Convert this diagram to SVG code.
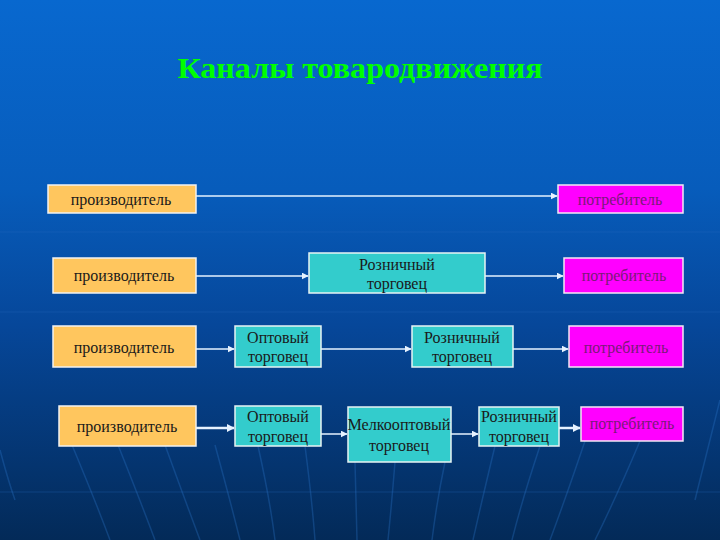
<svg xmlns="http://www.w3.org/2000/svg" width="720" height="540" viewBox="0 0 720 540">
<defs>
<linearGradient id="bg" x1="0" y1="0" x2="0" y2="1">
<stop offset="0" stop-color="#0868cf"/>
<stop offset="0.35" stop-color="#075cbb"/>
<stop offset="0.6" stop-color="#06479a"/>
<stop offset="1" stop-color="#032a58"/>
</linearGradient>
<marker id="ah" viewBox="0 0 10 10" refX="9" refY="5" markerWidth="7" markerHeight="7" markerUnits="userSpaceOnUse" orient="auto">
<path d="M0,0 L10,5 L0,10 z" fill="#e6f2ff"/>
</marker>
<marker id="ahb" viewBox="0 0 10 10" refX="9" refY="5" markerWidth="8" markerHeight="8" markerUnits="userSpaceOnUse" orient="auto">
<path d="M0,0 L10,5 L0,10 z" fill="#e6f2ff"/>
</marker>
</defs>
<style>
.prod{fill:#ffc65e;stroke:#f2f2f2;stroke-width:1.5}
.trade{fill:#33cccc;stroke:#e8f4f4;stroke-width:1.5}
.cons{fill:#ff00ff;stroke:#f4e8f4;stroke-width:1.5}
.t{font-family:"Liberation Serif","DejaVu Serif",serif;font-size:16px;fill:#1a1a1a;text-anchor:middle}
.tc{font-family:"Liberation Serif","DejaVu Serif",serif;font-size:16px;fill:#7a1a78;text-anchor:middle}
.ln{stroke:#e6f2ff;stroke-width:1.5;fill:none;marker-end:url(#ah)}
.lnb{stroke:#e6f2ff;stroke-width:2.5;fill:none;marker-end:url(#ahb)}
.deco{stroke:#2f7ad0;stroke-width:1.5;fill:none;opacity:0.3}
.hz{stroke:#2a6cc0;stroke-width:1;opacity:0.3}
</style>
<rect width="720" height="540" fill="url(#bg)"/>
<g id="decor">
<line class="hz" x1="0" y1="232" x2="720" y2="232"/>
<line class="hz" x1="0" y1="312" x2="720" y2="312"/>
<line class="hz" x1="0" y1="492" x2="720" y2="492"/>
<path class="deco" d="M72,445 Q95,500 110,540"/>
<path class="deco" d="M118,445 Q140,500 155,540"/>
<path class="deco" d="M165,445 Q185,500 200,540"/>
<path class="deco" d="M215,445 Q230,500 240,540"/>
<path class="deco" d="M258,446 Q270,500 275,540"/>
<path class="deco" d="M305,446 Q312,500 315,540"/>
<path class="deco" d="M355,462 Q356,500 357,540"/>
<path class="deco" d="M395,462 Q392,500 388,540"/>
<path class="deco" d="M445,462 Q437,500 432,540"/>
<path class="deco" d="M495,446 Q482,500 473,540"/>
<path class="deco" d="M540,446 Q522,500 512,540"/>
<path class="deco" d="M585,441 Q565,500 550,540"/>
<path class="deco" d="M640,441 Q615,500 595,540"/>
<path class="deco" d="M720,400 Q705,460 695,500"/>
<path class="deco" d="M0,450 Q8,480 15,500"/>
</g>
<text x="360" y="78" font-family="Liberation Serif,serif" font-size="30" font-weight="bold" fill="#00ff00" text-anchor="middle" textLength="365" lengthAdjust="spacingAndGlyphs">Каналы товародвижения</text>
<g id="connectors">
<line class="ln" x1="196" y1="196" x2="557" y2="196"/>
<line class="ln" x1="196" y1="276" x2="308" y2="276"/>
<line class="ln" x1="485" y1="276" x2="563" y2="276"/>
<line class="ln" x1="196" y1="349" x2="234" y2="349"/>
<line class="ln" x1="321" y1="349" x2="411" y2="349"/>
<line class="ln" x1="513" y1="349" x2="568" y2="349"/>
<line class="lnb" x1="196" y1="428" x2="234" y2="428"/>
<line class="ln" x1="321" y1="434" x2="347" y2="434"/>
<line class="ln" x1="451" y1="434" x2="478" y2="434"/>
<line class="lnb" x1="559" y1="428" x2="580" y2="428"/>
</g>
<g id="prod1"><rect class="prod" x="48" y="185" width="148" height="28"/><text class="t" x="121" y="205">производитель</text></g>
<g id="cons1"><rect class="cons" x="558" y="185" width="125" height="28"/><text class="tc" x="620" y="205">потребитель</text></g>
<g id="prod2"><rect class="prod" x="53" y="258" width="143" height="35"/><text class="t" x="124" y="281">производитель</text></g>
<g id="retail2"><rect class="trade" x="309" y="253" width="176" height="40"/><text class="t" x="397" y="270">Розничный</text><text class="t" x="397" y="289">торговец</text></g>
<g id="cons2"><rect class="cons" x="564" y="258" width="119" height="35"/><text class="tc" x="624" y="281">потребитель</text></g>
<g id="prod3"><rect class="prod" x="53" y="326" width="143" height="41"/><text class="t" x="124" y="353">производитель</text></g>
<g id="whole3"><rect class="trade" x="235" y="326" width="86" height="41"/><text class="t" x="278" y="343">Оптовый</text><text class="t" x="278" y="362">торговец</text></g>
<g id="retail3"><rect class="trade" x="412" y="326" width="101" height="41"/><text class="t" x="462" y="343">Розничный</text><text class="t" x="462" y="362">торговец</text></g>
<g id="cons3"><rect class="cons" x="569" y="326" width="114" height="41"/><text class="tc" x="626" y="353">потребитель</text></g>
<g id="prod4"><rect class="prod" x="59" y="406" width="137" height="40"/><text class="t" x="127" y="432">производитель</text></g>
<g id="whole4"><rect class="trade" x="235" y="406" width="86" height="40"/><text class="t" x="278" y="422">Оптовый</text><text class="t" x="278" y="442">торговец</text></g>
<g id="small4"><rect class="trade" x="348" y="407" width="103" height="55"/><text class="t" x="399" y="430" textLength="103" lengthAdjust="spacingAndGlyphs">Мелкооптовый</text><text class="t" x="399" y="451">торговец</text></g>
<g id="retail4"><rect class="trade" x="479" y="407" width="80" height="39"/><text class="t" x="519" y="422">Розничный</text><text class="t" x="519" y="442">торговец</text></g>
<g id="cons4"><rect class="cons" x="581" y="407" width="102" height="34"/><text class="tc" x="632" y="429">потребитель</text></g>
</svg>
